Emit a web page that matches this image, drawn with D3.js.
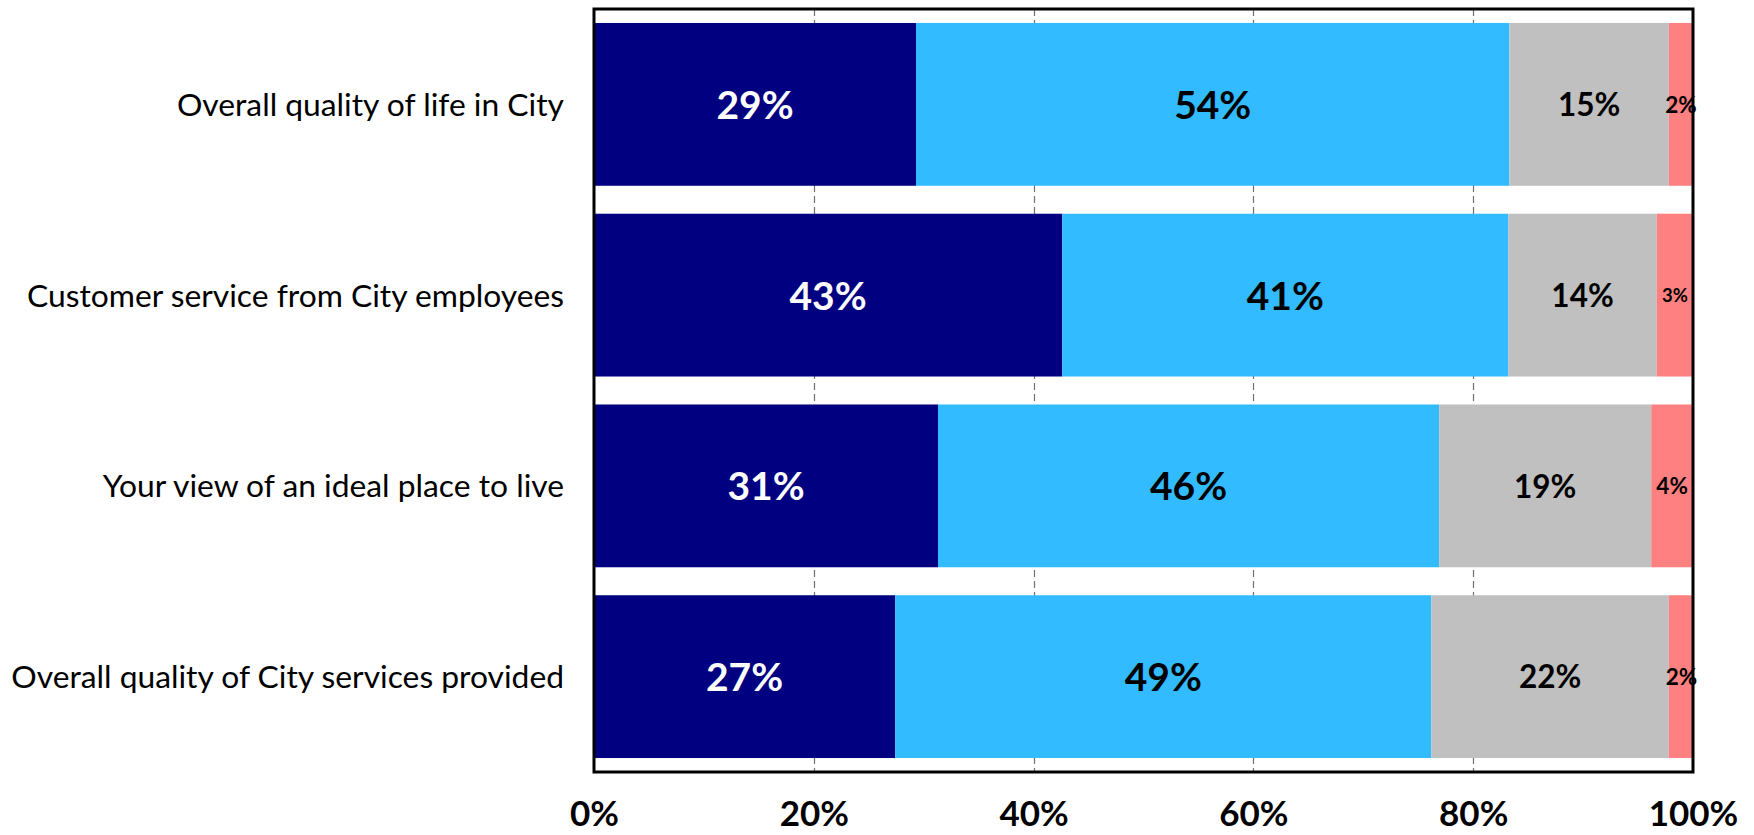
<!DOCTYPE html>
<html>
<head>
<meta charset="utf-8">
<script src="https://cdn.jsdelivr.net/npm/d3@7"></script>
<style>
  html, body { margin: 0; padding: 0; background: #fff; }
  svg { display: block; }
</style>
</head>
<body>
<svg id="chart" width="1754" height="835"></svg>
<script>
// ---- data ----
const categories = [
  "Overall quality of life in City",
  "Customer service from City employees",
  "Your view of an ideal place to live",
  "Overall quality of City services provided"
];
const seriesNames = ["Excellent", "Good", "Fair", "Poor"];
const excellent = [29.3, 42.6, 31.3, 27.4];
const good      = [54.0, 40.6, 45.6, 48.8];
const fair      = [14.5, 13.5, 19.3, 21.6];
const poor      = [2.2, 3.3, 3.8, 2.3];
const valueLabels = [
  ["29%", "54%", "15%", "2%"],
  ["43%", "41%", "14%", "3%"],
  ["31%", "46%", "19%", "4%"],
  ["27%", "49%", "22%", "2%"]
];
const tickValues = [0, 20, 40, 60, 80, 100];
const tickLabels = ["0%", "20%", "40%", "60%", "80%", "100%"];

// ---- styles ----
const colors = ["#000080", "#33BBFF", "#C0C0C0", "#FF8080"];
const labelColors = ["#ffffff", "#000000", "#000000", "#000000"];
const labelSizes = [39, 39, 31.5, 22.5];

const svg = d3.select("#chart");
const margin = { left: 594, right: 1754 - 1693, top: 9, bottom: 835 - 772 };
const W = 1754, H = 835;

const x = d3.scaleLinear().domain([0, 100]).range([margin.left, W - margin.right]);
const y = d3.scaleBand().domain(categories).range([margin.top, H - margin.bottom])
  .paddingInner(0.1466).paddingOuter(0.0733);

const table = categories.map((c, i) => ({
  cat: c, Excellent: excellent[i], Good: good[i], Fair: fair[i], Poor: poor[i], idx: i
}));
const stacked = d3.stack().keys(seriesNames)(table);

// gridlines
svg.append("g").selectAll("line")
  .data(tickValues.filter(v => v > 0 && v < 100))
  .join("line")
  .attr("x1", d => Math.round(x(d)) + 0.5).attr("x2", d => Math.round(x(d)) + 0.5)
  .attr("y1", margin.top).attr("y2", H - margin.bottom)
  .attr("stroke", "#707070").attr("stroke-width", 1.2)
  .attr("stroke-dasharray", "7,4");

// bars
const layers = svg.append("g").selectAll("g")
  .data(stacked).join("g")
  .attr("fill", (d, i) => colors[i]);
layers.selectAll("rect")
  .data(d => d).join("rect")
  .attr("x", d => x(d[0]))
  .attr("width", d => x(d[1]) - x(d[0]))
  .attr("y", d => y(d.data.cat))
  .attr("height", y.bandwidth());

// frame
svg.append("rect")
  .attr("x", margin.left).attr("y", margin.top)
  .attr("width", W - margin.right - margin.left)
  .attr("height", H - margin.bottom - margin.top)
  .attr("fill", "none").attr("stroke", "#000").attr("stroke-width", 3);

// value labels
stacked.forEach((layer, si) => {
  svg.append("g").selectAll("text")
    .data(layer).join("text")
    .attr("x", d => (x(d[0]) + x(d[1])) / 2)
    .attr("y", d => y(d.data.cat) + y.bandwidth() / 2)
    .attr("dy", "0.37em")
    .attr("text-anchor", "middle")
    .attr("font-family", "Lato, 'Open Sans', sans-serif")
    .attr("font-weight", "bold")
    .attr("font-size", d => (si === 3 && valueLabels[d.data.idx][3] === "3%") ? 18.5 : labelSizes[si])
    .attr("fill", labelColors[si])
    .text(d => valueLabels[d.data.idx][si]);
});

// category labels
const catG = svg.append("g");
const catTexts = catG.selectAll("text")
  .data(categories).join("text")
  .attr("x", margin.left - 30)
  .attr("y", d => y(d) + y.bandwidth() / 2)
  .attr("dy", "0.36em")
  .attr("text-anchor", "end")
  .attr("font-family", "Lato, 'Open Sans', sans-serif")
  .attr("font-size", 30)
  .attr("fill", "#000")
  .text(d => d);
// fit longest label width to the reference
let maxW = 0;
catTexts.each(function() { maxW = Math.max(maxW, this.getComputedTextLength()); });
if (maxW > 0) catTexts.attr("font-size", 30 * 553 / maxW);

// x axis
const xAxis = d3.axisBottom(x).tickValues(tickValues)
  .tickFormat((d, i) => tickLabels[i]).tickSize(0).tickPadding(0);
const ax = svg.append("g").attr("transform", `translate(0,${H - margin.bottom})`).call(xAxis);
ax.select(".domain").remove();
ax.selectAll("text")
  .attr("y", 54).attr("dy", 0)
  .attr("font-family", "Lato, 'Open Sans', sans-serif")
  .attr("font-weight", "bold")
  .attr("font-size", 35)
  .attr("fill", "#000");
</script>
</body>
</html>
